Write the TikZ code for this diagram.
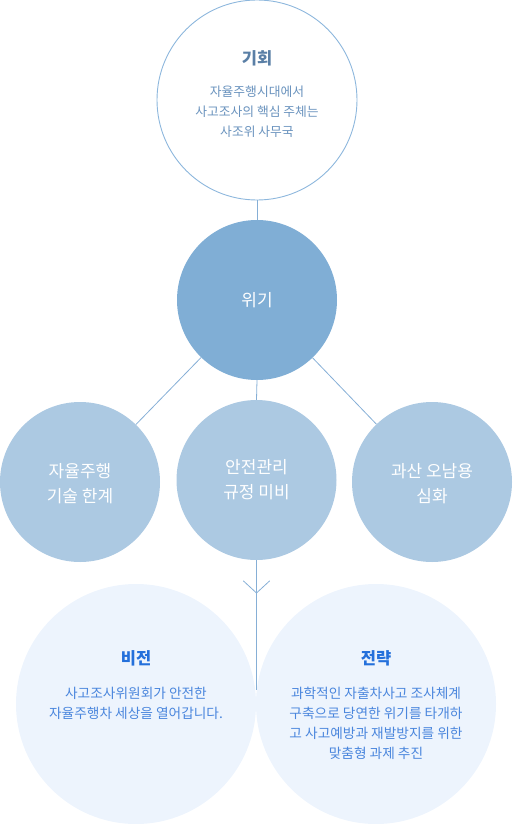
\documentclass[tikz,border=0pt]{standalone}
\usepackage{fontspec}
\setmainfont{Noto Sans CJK KR}
\begin{document}
\begin{tikzpicture}[x=1pt,y=-1pt,
  link/.style={draw=linec,line width=0.8pt},
  topc/.style={circle,draw=ringc,line width=0.9pt,fill=white,minimum size=200pt,inner sep=0pt},
  midc/.style={circle,fill=crisis,minimum size=160pt,inner sep=0pt},
  subc/.style={circle,fill=subfill,minimum size=160pt,inner sep=0pt},
  botc/.style={circle,fill=botfill,minimum size=240pt,inner sep=0pt},
  whitetxt/.style={text=white,font=\fontsize{17}{25}\selectfont,align=center},
  ttl/.style={font=\fontsize{16.5}{18}\selectfont\bfseries,align=center},
  body/.style={font=\fontsize{12.8}{20}\selectfont,align=center},
  bbody/.style={font=\fontsize{13.7}{20}\selectfont,align=center}]
\definecolor{ringc}{HTML}{8DB7DD}
\definecolor{linec}{HTML}{86AFD6}
\definecolor{crisis}{HTML}{80AED5}
\definecolor{subfill}{HTML}{ACC9E2}
\definecolor{botfill}{HTML}{EDF4FD}
\definecolor{toptxt}{HTML}{5A7FA6}
\definecolor{topbody}{HTML}{6A93BE}
\definecolor{bluettl}{HTML}{2470DB}
\definecolor{bluebody}{HTML}{4A86DD}
\useasboundingbox (0,0) rectangle (512,824);
% top
\node[topc] (opp) at (257,100) {};
\node[ttl,text=toptxt] (oppt) at (257,58) {기회};
\node[body,text=topbody] (oppb) at (257,112) {자율주행시대에서\\사고조사의 핵심 주체는\\사조위 사무국};
% crisis
\node[midc] (cri) at (257,300) {};
\node[whitetxt] (crit) at (257,300) {위기};
\draw[link] (opp) -- (cri);
% sub circles
\node[subc] (s1) at (80,482) {};
\node[subc] (s2) at (256.5,480) {};
\node[subc] (s3) at (432,482) {};
\node[whitetxt] (s1t) at (80,484) {자율주행\\기술 한계};
\node[whitetxt] (s2t) at (256.5,480) {안전관리\\규정 미비};
\node[whitetxt] (s3t) at (432,484) {과산 오남용\\심화};
\draw[link] (cri) -- (s1);
\draw[link] (cri.south) -- (s2.north);
\draw[link] (cri) -- (s3);
% bottom
\node[botc] (vis) at (136,704) {};
\node[botc] (str) at (376,704) {};
\coordinate (lineend) at (256.5,690);
\coordinate (tip) at (256.5,593);
\coordinate (chl) at (243.5,581);
\coordinate (chr) at (269.5,581);
\draw[link] (s2.south) -- (lineend);
\draw[link,line cap=round,line join=round] (chl) -- (tip) -- (chr);
\node[ttl,text=bluettl] (vist) at (136,658) {비전};
\node[bbody,text=bluebody] (visb) at (136,703) {사고조사위원회가 안전한\\자율주행차 세상을 열어갑니다.};
\node[ttl,text=bluettl] (strt) at (376,658) {전략};
\node[bbody,text=bluebody] (strb) at (376,723) {과학적인 자출차사고 조사체계\\구축으로 당연한 위기를 타개하\\고 사고예방과 재발방지를 위한\\맞춤형 과제 추진};
\end{tikzpicture}
\end{document}
